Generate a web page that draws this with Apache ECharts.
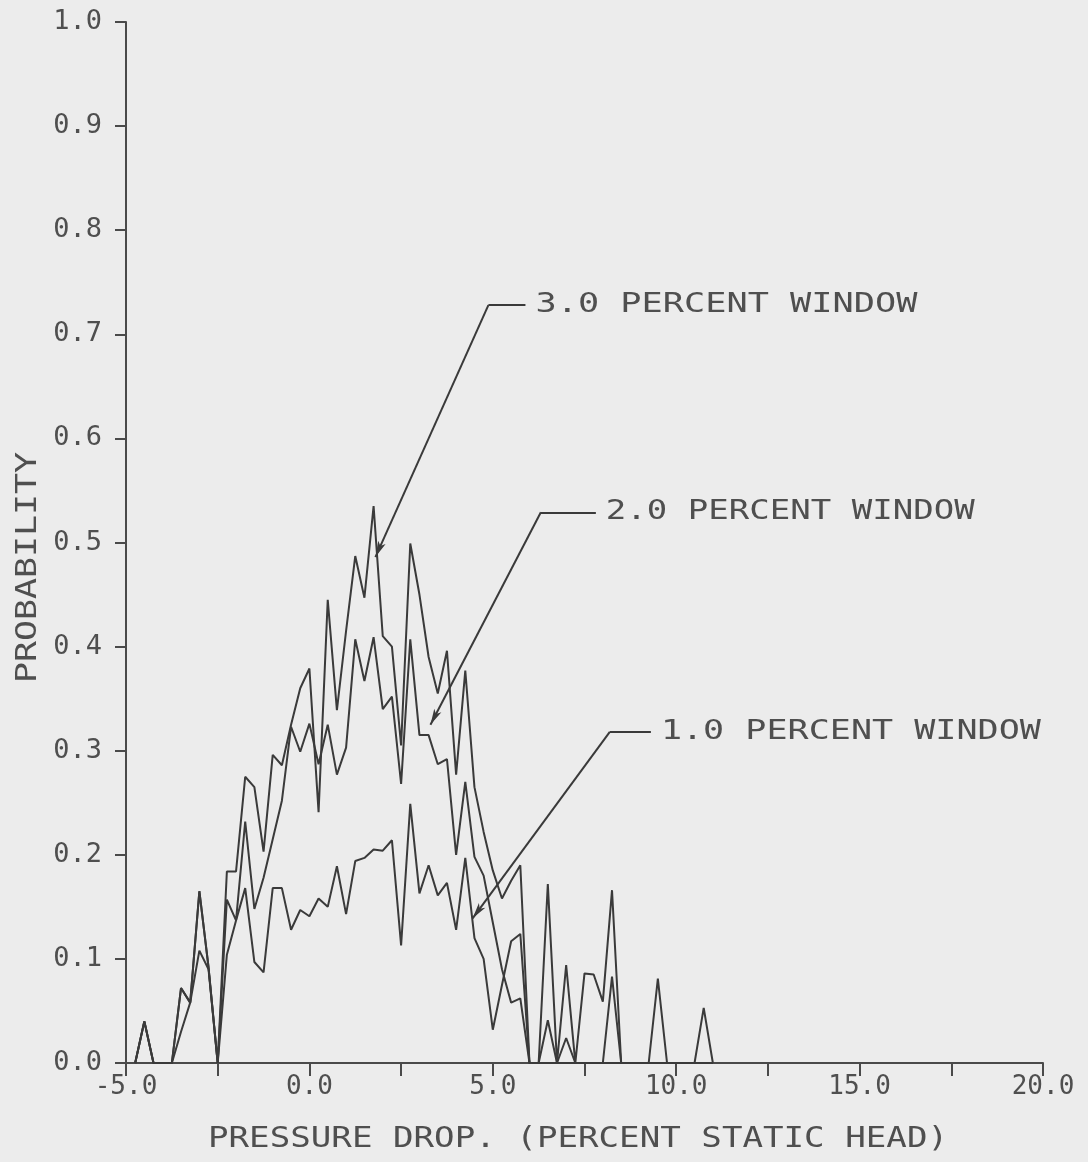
<!DOCTYPE html>
<html>
<head>
<meta charset="utf-8">
<script src="https://cdn.jsdelivr.net/npm/echarts@6/dist/echarts.min.js"></script>
<style>
  html, body { margin: 0; padding: 0; background: #ececec; }
  #chart { width: 1088px; height: 1162px; }
</style>
</head>
<body>
<div id="chart"></div>
<script>
// Pressure-drop grid (percent static head), sampled every 0.25
const pressureDrop = [
  -4.75, -4.5, -4.25, -4, -3.75, -3.5, -3.25, -3, -2.75, -2.5,
  -2.25, -2, -1.75, -1.5, -1.25, -1, -0.75, -0.5, -0.25, 0,
  0.25, 0.5, 0.75, 1, 1.25, 1.5, 1.75, 2, 2.25, 2.5,
  2.75, 3, 3.25, 3.5, 3.75, 4, 4.25, 4.5, 4.75, 5,
  5.25, 5.5, 5.75, 6, 6.25, 6.5, 6.75, 7, 7.25, 7.5,
  7.75, 8, 8.25, 8.5, 8.75, 9, 9.25, 9.5, 9.75, 10,
  10.25, 10.5, 10.75, 11
];

// Probability for each window width
const window3 = [
  0, 0.04, 0, 0, 0, 0.072, 0.058, 0.165, 0.092, 0,
  0.184, 0.184, 0.275, 0.265, 0.203, 0.296, 0.286, 0.325, 0.36, 0.379,
  0.241, 0.445, 0.339, 0.415, 0.487, 0.447, 0.535, 0.41, 0.40, 0.305,
  0.499, 0.45, 0.39, 0.355, 0.396, 0.277, 0.377, 0.265, 0.222, 0.185,
  0.158, 0.175, 0.19, 0, 0, 0.172, 0, 0.094, 0, 0.086,
  0.085, 0.059, 0.166, 0, 0, 0, 0, 0.081, 0, 0,
  0, 0, 0.053, 0
];
const window2 = [
  0, 0.04, 0, 0, 0, 0.072, 0.058, 0.165, 0.092, 0,
  0.157, 0.137, 0.232, 0.148, 0.178, 0.215, 0.252, 0.323, 0.299, 0.326,
  0.287, 0.325, 0.277, 0.303, 0.407, 0.367, 0.409, 0.34, 0.352, 0.268,
  0.407, 0.315, 0.315, 0.287, 0.292, 0.2, 0.27, 0.198, 0.18, 0.135,
  0.09, 0.058, 0.062, 0, 0, 0.041, 0, 0.024, 0, 0,
  0, 0, 0.083, 0, 0, 0, 0, 0, 0, 0,
  0, 0, 0, 0
];
const window1 = [
  0, 0.04, 0, 0, 0, 0.03, 0.058, 0.108, 0.09, 0,
  0.104, 0.137, 0.168, 0.097, 0.087, 0.168, 0.168, 0.128, 0.147, 0.141,
  0.158, 0.15, 0.189, 0.143, 0.194, 0.197, 0.205, 0.204, 0.214, 0.113,
  0.249, 0.163, 0.19, 0.161, 0.173, 0.128, 0.197, 0.12, 0.1, 0.032,
  0.075, 0.117, 0.124, 0, 0, 0, 0, 0, 0, 0,
  0, 0, 0, 0, 0, 0, 0, 0, 0, 0,
  0, 0, 0, 0
];

// Callout labels with their arrow tip, elbow and leader end (data units)
const calloutText = ['3.0 PERCENT WINDOW', '2.0 PERCENT WINDOW', '1.0 PERCENT WINDOW'];
const calloutTip = [[1.80, 0.486], [3.30, 0.325], [4.45, 0.139]];
const calloutElbow = [[4.88, 0.728], [6.31, 0.529], [8.19, 0.318]];
const calloutEndX = [5.89, 7.81, 9.31];
const calloutWidth = [382, 369, 380];

const xTitle = 'PRESSURE DROP. (PERCENT STATIC HEAD)';
const yTitle = 'PROBABILITY';

const INK = '#3a3a3a';
const AXIS = '#4a4a4a';
const TEXT = '#4f4f4f';
const MONO = '"DejaVu Sans Mono", "Liberation Mono", monospace';

function pairs(ys) {
  return pressureDrop.map((x, i) => [x, ys[i]]);
}

const leaderLines = [];
calloutTip.forEach((tip, i) => {
  const elbow = calloutElbow[i];
  leaderLines.push([
    { coord: elbow, symbol: 'none' },
    { coord: tip, symbol: 'arrow', symbolSize: [6, 16] }
  ]);
  leaderLines.push([
    { coord: elbow, symbol: 'none' },
    { coord: [calloutEndX[i], elbow[1]], symbol: 'none' }
  ]);
});

function lineSeries(name, ys, extra) {
  return Object.assign({
    name: name,
    type: 'line',
    data: pairs(ys),
    symbol: 'none',
    silent: true,
    animation: false,
    lineStyle: { color: INK, width: 2 }
  }, extra || {});
}

const chart = echarts.init(document.getElementById('chart'), null, { renderer: 'canvas' });

chart.setOption({
  backgroundColor: '#ececec',
  animation: false,
  grid: { left: 126, top: 22, width: 917, height: 1041, containLabel: false },
  xAxis: {
    type: 'value',
    min: -5, max: 20, interval: 2.5,
    axisLine: { show: true, onZero: false, lineStyle: { color: AXIS, width: 2 } },
    axisTick: { show: true, length: 13, lineStyle: { color: AXIS, width: 2 } },
    splitLine: { show: false },
    axisLabel: {
      color: TEXT, fontFamily: MONO, fontSize: 26, margin: 11,
      formatter: v => (Math.abs(v % 5) < 1e-9 ? v.toFixed(1) : '')
    }
  },
  yAxis: {
    type: 'value',
    min: 0, max: 1, interval: 0.1,
    axisLine: { show: true, onZero: false, lineStyle: { color: AXIS, width: 2 } },
    axisTick: { show: true, length: 11, lineStyle: { color: AXIS, width: 2 } },
    splitLine: { show: false },
    axisLabel: {
      color: TEXT, fontFamily: MONO, fontSize: 27, margin: 24,
      formatter: v => v.toFixed(1)
    }
  },
  series: [
    lineSeries('1.0 PERCENT WINDOW', window1),
    lineSeries('2.0 PERCENT WINDOW', window2),
    lineSeries('3.0 PERCENT WINDOW', window3, {
      markLine: {
        silent: true,
        animation: false,
        label: { show: false },
        emphasis: { disabled: true },
        lineStyle: { type: 'solid', color: INK, width: 2 },
        data: leaderLines
      }
    })
  ]
});

// Text stretched horizontally to a given width, like the plotter lettering
const measureCtx = document.createElement('canvas').getContext('2d');
function stretchedText(text, fontSize, width, props) {
  const font = fontSize + 'px ' + MONO;
  measureCtx.font = font;
  const natural = measureCtx.measureText(text).width;
  return Object.assign({
    type: 'text',
    silent: true,
    scaleX: width / natural,
    style: {
      text: text, font: font, fill: TEXT,
      align: 'left', verticalAlign: 'middle',
      textAlign: 'left', textVerticalAlign: 'middle'
    }
  }, props);
}

const graphics = [];
calloutText.forEach((t, i) => {
  const p = chart.convertToPixel({ gridIndex: 0 }, [calloutEndX[i], calloutElbow[i][1]]);
  graphics.push(stretchedText(t, 27, calloutWidth[i], { x: p[0] + 10, y: p[1] }));
});

// Axis titles
graphics.push(stretchedText(xTitle, 28, 740, { x: 208, y: 1140 }));
graphics.push(stretchedText(yTitle, 28, 231, { x: 29, y: 683, rotation: Math.PI / 2 }));

chart.setOption({ graphic: graphics });
</script>
</body>
</html>
